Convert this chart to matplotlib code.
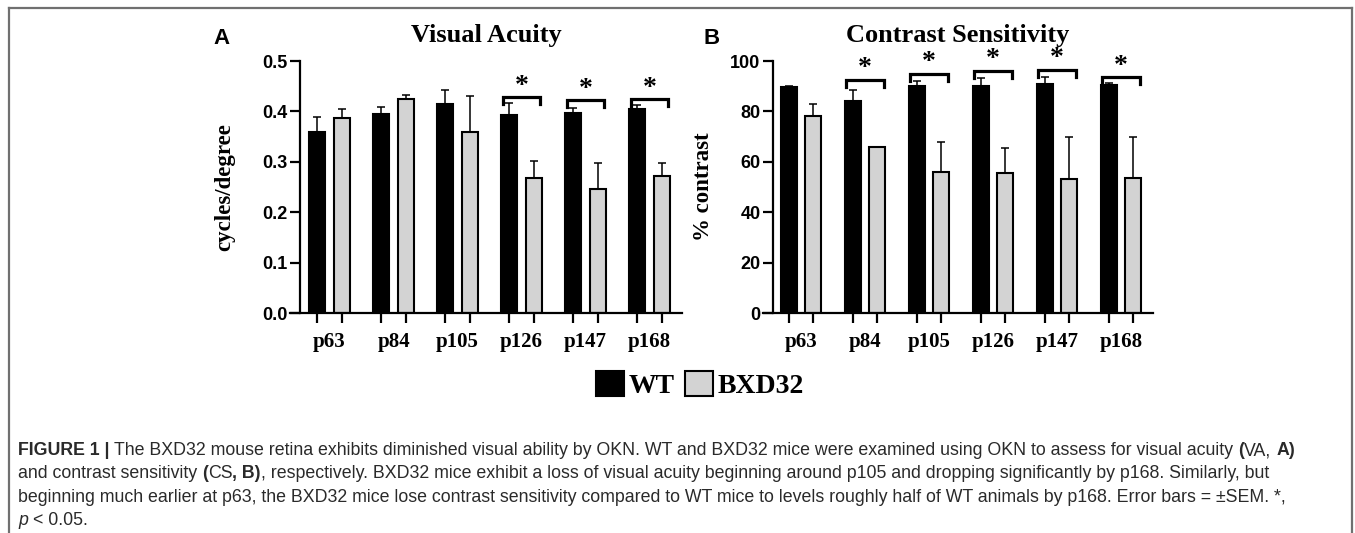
import numpy as np
import matplotlib
matplotlib.use('Agg')
from matplotlib import pyplot as plt
from matplotlib.patches import Patch
from matplotlib.lines import Line2D

# -----------------------------
# data
# -----------------------------
ages = ['p63', 'p84', 'p105', 'p126', 'p147', 'p168']

va_wt = [0.359, 0.395, 0.415, 0.393, 0.397, 0.405]
va_wt_sem = [0.030, 0.014, 0.027, 0.023, 0.010, 0.007]
va_bxd = [0.387, 0.425, 0.359, 0.268, 0.246, 0.272]
va_bxd_sem = [0.018, 0.008, 0.072, 0.033, 0.052, 0.026]
va_sig = [3, 4, 5]
va_sig_y = [0.428, 0.422, 0.424]

cs_wt = [89.7, 84.1, 90.2, 90.2, 90.8, 90.4]
cs_wt_sem = [0.4, 4.4, 1.8, 3.1, 2.9, 1.0]
cs_bxd = [78.2, 66.0, 55.8, 55.5, 53.1, 53.5]
cs_bxd_sem = [4.8, 0.0, 12.0, 10.0, 16.6, 16.2]
cs_sig = [1, 2, 3, 4, 5]
cs_sig_y = [92.5, 95.0, 96.0, 96.4, 93.6]

W, H = 1355, 533
SERIF = 'Liberation Serif'
SANS = 'Liberation Sans'
GRAY = '#d3d3d3'

fig = plt.figure(figsize=(W / 100, H / 100), dpi=100)


def px_axes(x0, y0, x1, y1):
    return fig.add_axes([x0 / W, 1 - y1 / H, (x1 - x0) / W, (y1 - y0) / H])


def panel(ax, wt, wt_sem, bxd, bxd_sem, sig, sig_y, yticks, fmt, ylabel, title,
          xlim, yaxis_x, leg, labelpad):
    x = np.arange(len(ages))
    off, bw = 0.195, 0.25
    ax.bar(x - off, wt, bw, color='black', edgecolor='black', linewidth=1.5, zorder=2)
    ax.bar(x + off, bxd, bw, color=GRAY, edgecolor='black', linewidth=1.5, zorder=2)
    z = np.zeros(len(ages))
    ax.errorbar(x - off, wt, yerr=[z, wt_sem], fmt='none', ecolor='black',
                elinewidth=1.1, capsize=3, capthick=1.1, zorder=3)
    ax.errorbar(x + off, bxd, yerr=[z, bxd_sem], fmt='none', ecolor='black',
                elinewidth=1.1, capsize=3, capthick=1.1, zorder=3)

    # significance brackets
    for g, yb in zip(sig, sig_y):
        xs = [g - 0.29, g - 0.29, g + 0.29, g + 0.29]
        ys = [yb - leg, yb, yb, yb - leg]
        ax.plot(xs, ys, color='black', lw=2.3, clip_on=False, zorder=4,
                solid_joinstyle='miter')
        ax.annotate('*', (g, yb), xytext=(0, 8), textcoords='offset points',
                    ha='center', va='center', fontsize=20, fontweight='bold',
                    family=SERIF, annotation_clip=False)

    ax.set_xlim(*xlim)
    ax.set_ylim(yticks[0], yticks[-1])
    for s in ['top', 'right']:
        ax.spines[s].set_visible(False)
    ax.spines['left'].set_position(('data', yaxis_x))
    for s in ['left', 'bottom']:
        ax.spines[s].set_linewidth(1.6)

    ax.set_yticks(yticks)
    ax.set_yticklabels([fmt.format(v) for v in yticks], fontsize=13,
                       fontweight='bold', family=SANS)
    ax.tick_params(axis='y', length=7, width=1.6, pad=2)

    bar_pos = np.sort(np.concatenate([x - off, x + off]))
    ax.set_xticks(bar_pos)
    ax.set_xticklabels([])
    ax.tick_params(axis='x', which='major', length=7, width=1.6)
    ax.set_xticks(x, minor=True)
    ax.set_xticklabels(ages, minor=True, fontsize=15, fontweight='bold', family=SERIF)
    ax.tick_params(axis='x', which='minor', length=0, pad=14)

    ax.set_ylabel(ylabel, fontsize=16.5, fontweight='bold', family=SERIF,
                  labelpad=labelpad)
    ax.set_title(title, fontsize=19, fontweight='bold', family=SERIF, pad=14)


axA = px_axes(290, 61, 682, 313)
panel(axA, va_wt, va_wt_sem, va_bxd, va_bxd_sem, va_sig, va_sig_y,
      [0.0, 0.1, 0.2, 0.3, 0.4, 0.5], '{:.1f}', 'cycles/degree', 'Visual Acuity',
      (-0.617, 5.508), -0.461, 0.014, 19)
axB = px_axes(763, 61, 1153, 313)
panel(axB, cs_wt, cs_wt_sem, cs_bxd, cs_bxd_sem, cs_sig, cs_sig_y,
      [0, 20, 40, 60, 80, 100], '{:d}', '% contrast', 'Contrast Sensitivity',
      (-0.594, 5.5), -0.4375, 2.8, 12)

fig.text(221 / W, 1 - 38 / H, 'A', fontsize=16, fontweight='bold', family=SANS,
         ha='center', va='center')
fig.text(712 / W, 1 - 38 / H, 'B', fontsize=16, fontweight='bold', family=SANS,
         ha='center', va='center')

handles = [Patch(facecolor='black', edgecolor='black', linewidth=1.5, label='WT'),
           Patch(facecolor=GRAY, edgecolor='black', linewidth=1.5, label='BXD32')]
fig.legend(handles=handles, loc='center', bbox_to_anchor=(700 / W, 1 - 385 / H),
           ncol=2, frameon=False, handlelength=1.0, handleheight=1.0,
           handletextpad=0.15, columnspacing=0.4, borderpad=0,
           prop={'family': SERIF, 'weight': 'bold', 'size': 20})

# frame around figure
for xs, ys in [([9, 9], [8, H + 5]), ([1352, 1352], [8, H + 5]), ([9, 1352], [8, 8])]:
    fig.add_artist(Line2D([v / W for v in xs], [1 - v / H for v in ys],
                          color='#707070', lw=1.6, transform=fig.transFigure))

# caption with mixed weights
renderer = fig.canvas.get_renderer()
CAP_SIZE = 12.8
CAP_COLOR = '#2a2a2a'


def text_w(s, **kw):
    t = fig.text(0, 0, s, fontsize=CAP_SIZE, family=SANS, **kw)
    w = t.get_window_extent(renderer).width
    t.remove()
    return w


def runs_line(x, y, runs):
    for s, kw in runs:
        lead = len(s) - len(s.lstrip(' '))
        trail = len(s) - len(s.rstrip(' '))
        sp = text_w('a a', **kw) - text_w('aa', **kw)
        x += lead * sp
        core = s.strip(' ')
        if core:
            t = fig.text(x / W, 1 - y / H, core, fontsize=CAP_SIZE, family=SANS,
                         color=CAP_COLOR, va='baseline', ha='left', **kw)
            x += t.get_window_extent(renderer).width
        x += trail * sp


B_ = {'fontweight': 'bold'}
N_ = {}
caption = [
    [('FIGURE 1 |', B_), (' The BXD32 mouse retina exhibits diminished visual ability by OKN. '
                          'WT and BXD32 mice were examined using OKN to assess for visual acuity ', N_),
     ('(', B_), ('VA, ', N_), ('A)', B_)],
    [('and contrast sensitivity ', N_), ('(', B_), ('CS', N_), (', B)', B_),
     (', respectively. BXD32 mice exhibit a loss of visual acuity beginning around p105 '
      'and dropping significantly by p168. Similarly, but', N_)],
    [('beginning much earlier at p63, the BXD32 mice lose contrast sensitivity compared to WT '
      'mice to levels roughly half of WT animals by p168. Error bars = \u00b1SEM. *,', N_)],
    [('p', {'fontstyle': 'italic'}), (' < 0.05.', N_)],
]
for i, line in enumerate(caption):
    runs_line(18, 455 + i * 23.4, line)

plt.savefig('out.png', dpi=100)
